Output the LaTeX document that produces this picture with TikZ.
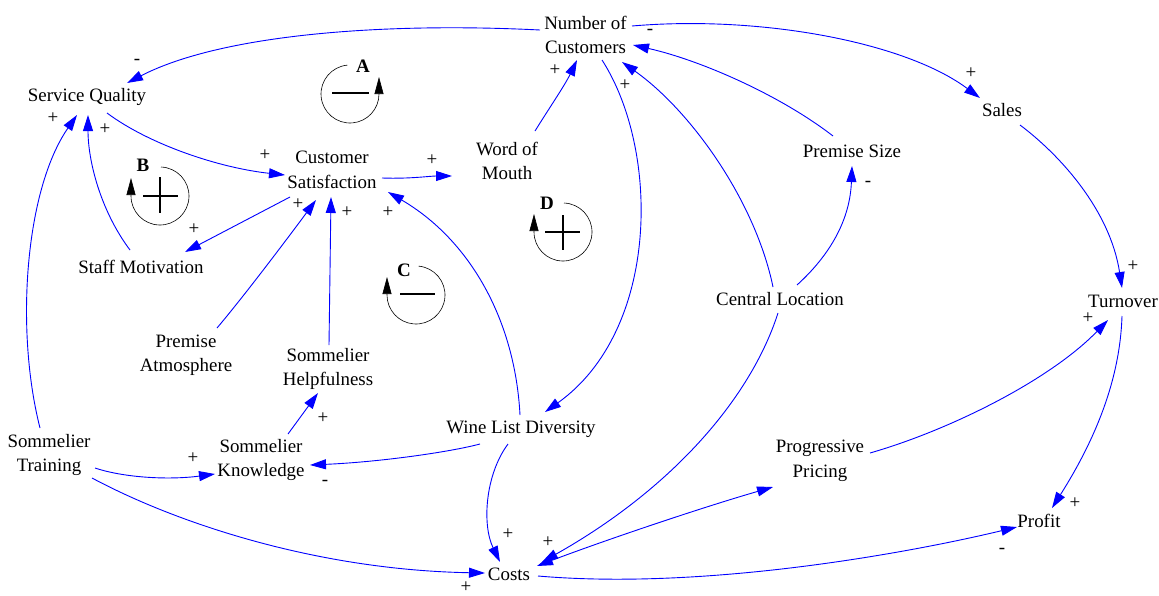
\documentclass[tikz,border=0pt]{standalone}
\usepackage{fontspec}
\setmainfont{Liberation Serif}
\usetikzlibrary{arrows.meta}
\definecolor{cl}{RGB}{0,0,255}
\begin{document}
\begin{tikzpicture}[x=1pt,y=-1pt,
  var/.style={align=center, inner sep=0pt, font=\fontsize{18.9}{24.5}\selectfont},
  sgn/.style={inner sep=0pt, font=\fontsize{19}{19}\selectfont},
  lnk/.style={draw=cl, line width=0.9pt, -{Triangle[length=16pt,width=10pt]}},
  lnkb/.style={draw=cl, line width=0.9pt, {Triangle[length=16pt,width=10pt]}-{Triangle[length=16pt,width=10pt]}},
  lp/.style={draw=black, line width=0.6pt, -{Triangle[length=17pt,width=9pt]}},
  pm/.style={draw=black, line width=2.2pt},
  lbl/.style={inner sep=0pt, font=\fontsize{19}{19}\selectfont\bfseries}]
\useasboundingbox (0,0) rectangle (1159,595);

% variables
\node[var] (ncust) at (585.5,35) {Number of\\Customers};
\node[var] (sq) at (87,97) {Service Quality};
\node[var] (cs) at (332,170) {Customer\\Satisfaction};
\node[var] (wom) at (507,161) {Word of\\Mouth};
\node[var] (sales) at (1002,110) {Sales};
\node[var] (psize) at (852,151) {Premise Size};
\node[var] (staff) at (141,267) {Staff Motivation};
\node[var] (patm) at (186,355) {Premise\\Atmosphere};
\node[var] (shelp) at (328,369) {Sommelier\\Helpfulness};
\node[var] (cloc) at (780,299) {Central Location};
\node[var] (turn) at (1123,301) {Turnover};
\node[var] (strain) at (49,455) {Sommelier\\Training};
\node[var] (sknow) at (261,460) {Sommelier\\Knowledge};
\node[var] (wld) at (521,429) {Wine List Diversity};
\node[var] (ppric) at (820,461) {Progressive\\Pricing};
\node[var] (profit) at (1039,521) {Profit};
\node[var] (costs) at (509,574) {Costs};

% links
\draw[lnk] ([shift={(-45.5,-5)}]ncust.center) .. controls (380,22) and (220,35) .. ([shift={(40,-14)}]sq.center);
\draw[lnk] ([shift={(46.5,-9)}]ncust.center) .. controls (760,15) and (905,42) .. ([shift={(-22,-12)}]sales.center);
\draw[lnk] ([shift={(-19,-15)}]psize.center) .. controls (780,95) and (700,60) .. ([shift={(47.5,10)}]ncust.center);
\draw[lnk] ([shift={(-7,-12)}]cloc.center) .. controls (755,200) and (690,110) .. ([shift={(36.5,27)}]ncust.center);
\draw[lnk] ([shift={(28,-30)}]wom.center) .. controls (548,110) and (565,85) .. ([shift={(-8.5,25)}]ncust.center);
\draw[lnk] ([shift={(16.5,25)}]ncust.center) .. controls (660,150) and (660,330) .. ([shift={(24,-17)}]wld.center);
\draw[lnk] ([shift={(50,8)}]cs.center) .. controls (410,179) and (430,176) .. ([shift={(-55,15)}]wom.center);
\draw[lnk] ([shift={(20,16)}]sq.center) .. controls (150,145) and (220,168) .. ([shift={(-47,5)}]cs.center);
\draw[lnk] ([shift={(-42,27)}]cs.center) -- ([shift={(44,-15)}]staff.center);
\draw[lnk] ([shift={(-11,-17)}]staff.center) .. controls (100,210) and (88,160) .. ([shift={(1,18)}]sq.center);
\draw[lnk] ([shift={(-9,-27)}]strain.center) .. controls (15,330) and (25,190) .. ([shift={(-10,18)}]sq.center);
\draw[lnk] ([shift={(31,-27)}]patm.center) .. controls (245,295) and (290,235) .. ([shift={(-16,30)}]cs.center);
\draw[lnk] ([shift={(1,-24)}]shelp.center) -- ([shift={(-1,27)}]cs.center);
\draw[lnk] ([shift={(-1,-14)}]wld.center) .. controls (515,320) and (470,240) .. ([shift={(56,22)}]cs.center);
\draw[lnk] ([shift={(27,-26)}]sknow.center) -- ([shift={(-10,24)}]shelp.center);
\draw[lnk] ([shift={(-41,15)}]wld.center) .. controls (450,452) and (380,462) .. ([shift={(49,5)}]sknow.center);
\draw[lnk] ([shift={(46,13)}]strain.center) .. controls (125,478) and (170,480) .. ([shift={(-46,14)}]sknow.center);
\draw[lnk] ([shift={(43,23)}]strain.center) .. controls (180,525) and (320,570) .. ([shift={(-24,-1)}]costs.center);
\draw[lnk] ([shift={(-13,15)}]wld.center) .. controls (485,475) and (482,525) .. ([shift={(-9,-12)}]costs.center);
\draw[lnk] ([shift={(-2,14)}]cloc.center) .. controls (750,400) and (670,490) .. ([shift={(33,-12)}]costs.center);
\draw[lnkb] ([shift={(28,-8)}]costs.center) .. controls (600,542) and (700,508) .. ([shift={(-47,26)}]ppric.center);
\draw[lnk] ([shift={(29,2)}]costs.center) .. controls (700,590) and (900,555) .. ([shift={(-22,6)}]profit.center);
\draw[lnk] ([shift={(-1,15)}]turn.center) .. controls (1120,380) and (1095,440) .. ([shift={(13,-13)}]profit.center);
\draw[lnk] ([shift={(18,15)}]sales.center) .. controls (1060,155) and (1110,210) .. ([shift={(-1,-13)}]turn.center);
\draw[lnk] ([shift={(50,-8)}]ppric.center) .. controls (950,430) and (1050,380) .. ([shift={(-15,19)}]turn.center);
\draw[lnk] ([shift={(17,-14)}]cloc.center) .. controls (830,255) and (850,220) .. ([shift={(0,15)}]psize.center);

% polarity signs
\node[sgn] (s1) at (137,62) {-};
\node[sgn] (s2) at (971,73) {+};
\node[sgn] (s3) at (650,32) {-};
\node[sgn] (s4) at (625,85) {+};
\node[sgn] (s5) at (555,70) {+};
\node[sgn] (s6) at (432,160) {+};
\node[sgn] (s7) at (265,155) {+};
\node[sgn] (s8) at (194,229) {+};
\node[sgn] (s9) at (105,129) {+};
\node[sgn] (s10) at (53,118) {+};
\node[sgn] (s11) at (298,204) {+};
\node[sgn] (s12) at (347,212) {+};
\node[sgn] (s13) at (388,212) {+};
\node[sgn] (s14) at (323,418) {+};
\node[sgn] (s15) at (325,483) {-};
\node[sgn] (s16) at (193,458) {+};
\node[sgn] (s17) at (466,587) {+};
\node[sgn] (s18) at (508,534) {+};
\node[sgn] (s19) at (548,542) {+};
\node[sgn] (s20) at (1002,551) {-};
\node[sgn] (s21) at (1075,503) {+};
\node[sgn] (s22) at (1133,266) {+};
\node[sgn] (s23) at (1088,318) {+};
\node[sgn] (s24) at (868,184) {-};

% loop markers
\draw[lp] (350,94) ++(95:29pt) arc[start angle=95, end angle=360, radius=29pt] -- ++(0,-17);
\draw[pm] (332,93) -- (369,93);
\node[lbl] (la) at (363,66) {A};

\draw[lp] (160,196) ++(88:29pt) arc[start angle=88, end angle=-180, radius=29pt] -- ++(0,-18);
\draw[pm] (143,196) -- (178,196) (160,177) -- (160,213);
\node[lbl] (lb) at (143,165) {B};

\draw[lp] (416,295) ++(85:29pt) arc[start angle=85, end angle=-180, radius=29pt] -- ++(0,-18);
\draw[pm] (400,294) -- (435,294);
\node[lbl] (lc) at (404,270) {C};

\draw[lp] (563,232) ++(88:29pt) arc[start angle=88, end angle=-180, radius=29pt] -- ++(0,-18);
\draw[pm] (545,232) -- (580,232) (563,215) -- (563,250);
\node[lbl] (ld) at (547,203) {D};
\end{tikzpicture}
\end{document}
